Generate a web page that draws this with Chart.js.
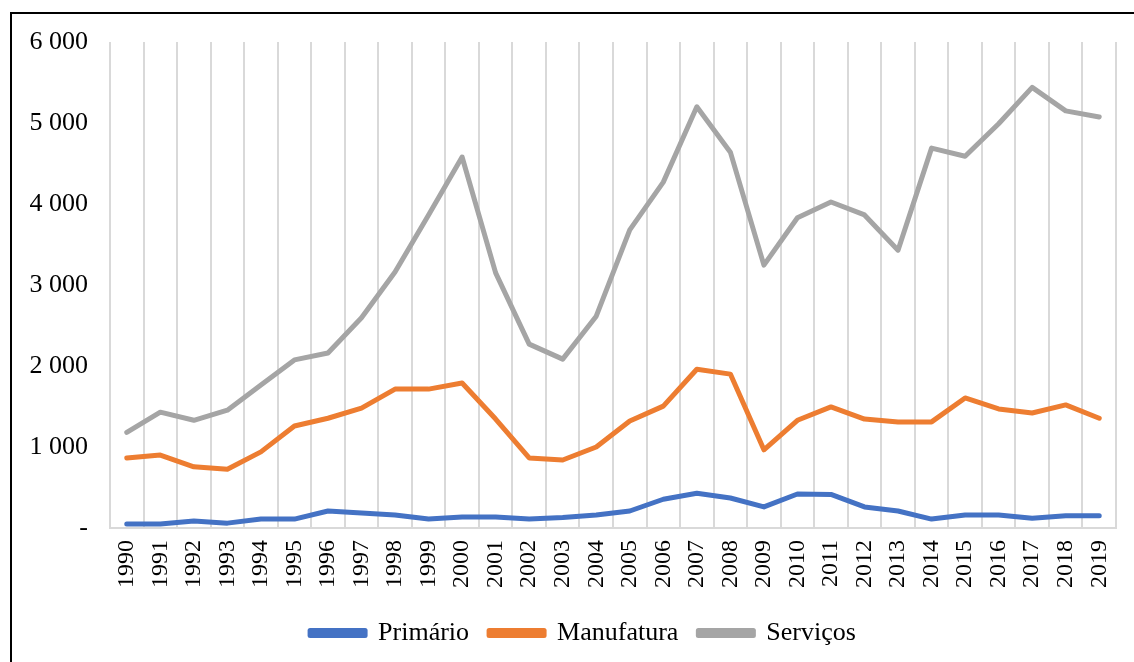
<!DOCTYPE html>
<html>
<head>
<meta charset="utf-8">
<script src="https://cdn.jsdelivr.net/npm/chart.js@4"></script>
<style>
  html, body { margin: 0; padding: 0; background: #fff; }
  #wrap { position: relative; width: 1134px; height: 662px; overflow: hidden; }
  #frame { position: absolute; left: 10px; top: 12px; width: 1140px; height: 680px; border: 2px solid #000; box-sizing: border-box; }
  canvas { position: absolute; left: 0; top: 0; }
</style>
</head>
<body>
<div id="wrap">
  <div id="frame"></div>
  <canvas id="grafico" width="1134" height="662"></canvas>
</div>
<script>
const anos = ['1990','1991','1992','1993','1994','1995','1996','1997','1998','1999',
  '2000','2001','2002','2003','2004','2005','2006','2007','2008','2009',
  '2010','2011','2012','2013','2014','2015','2016','2017','2018','2019'];

const primario = [50, 50, 85, 60, 110, 110, 210, 185, 160, 110,
  135, 135, 110, 130, 160, 210, 355, 430, 370, 260,
  420, 415, 260, 210, 110, 160, 160, 120, 150, 150];

const manufatura = [865, 900, 755, 725, 940, 1260, 1355, 1480, 1715, 1715,
  1790, 1345, 865, 840, 1000, 1320, 1505, 1960, 1900, 965,
  1330, 1495, 1345, 1310, 1310, 1605, 1470, 1420, 1520, 1355];

const servicos = [1180, 1430, 1330, 1455, 1765, 2075, 2160, 2595, 3160, 3865,
  4580, 3150, 2270, 2085, 2615, 3680, 4270, 5200, 4640, 3245,
  3830, 4025, 3865, 3430, 4690, 4590, 4990, 5440, 5150, 5075];

const fonte = 'Liberation Serif, Times New Roman, serif';

function serie(nome, valores, cor) {
  return {
    label: nome,
    data: valores,
    borderColor: cor,
    backgroundColor: cor,
    borderWidth: 5,
    borderCapStyle: 'round',
    borderJoinStyle: 'round',
    pointRadius: 0,
    tension: 0,
    fill: false
  };
}

// empurra a legenda um pouco para a direita, como no original
const deslocaLegenda = {
  id: 'deslocaLegenda',
  afterUpdate(chart) {
    chart.legend.left += 25;
    chart.legend.right += 25;
  }
};

const ctx = document.getElementById('grafico').getContext('2d');
new Chart(ctx, {
  type: 'line',
  data: {
    labels: anos,
    datasets: [
      serie('Primário', primario, '#4472C4'),
      serie('Manufatura', manufatura, '#ED7D31'),
      serie('Serviços', servicos, '#A5A5A5')
    ]
  },
  plugins: [deslocaLegenda],
  options: {
    responsive: false,
    animation: false,
    layout: { padding: { left: 0, right: 18, top: 42, bottom: 6 } },
    plugins: {
      tooltip: { enabled: false },
      legend: {
        position: 'bottom',
        labels: {
          color: '#000',
          font: { family: fonte, size: 26 },
          boxWidth: 55,
          boxHeight: 5,
          padding: 20
        }
      }
    },
    scales: {
      x: {
        offset: true,
        grid: { offset: true, color: '#D9D9D9', lineWidth: 2, drawTicks: false },
        border: { color: '#D9D9D9', width: 2 },
        afterFit: s => { s.paddingRight = 0; },
        ticks: {
          color: '#000',
          font: { family: fonte, size: 24 },
          minRotation: 90,
          maxRotation: 90,
          autoSkip: false,
          padding: 12
        }
      },
      y: {
        min: 0,
        max: 6000,
        grid: { display: false, drawTicks: false },
        border: { display: false },
        afterFit: s => { s.width = 110; },
        ticks: {
          stepSize: 1000,
          color: '#000',
          font: { family: fonte, size: 26 },
          padding: 22,
          callback: v => v === 0 ? '-' : String(v).replace(/\B(?=(\d{3})+(?!\d))/g, ' ')
        }
      }
    }
  }
});
</script>
</body>
</html>
